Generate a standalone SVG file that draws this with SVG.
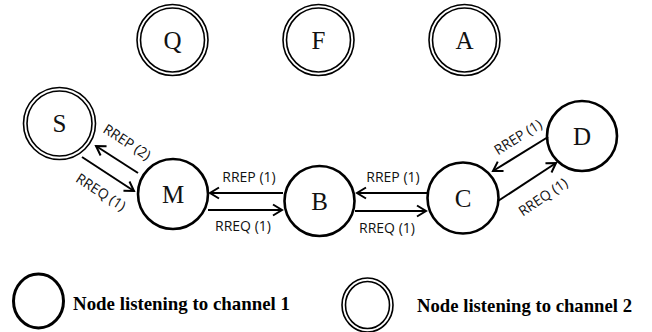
<svg xmlns="http://www.w3.org/2000/svg" width="652" height="332" viewBox="0 0 652 332">
  <defs>
    <marker id="head" viewBox="-11 -7 13 14" refX="0" refY="0" markerWidth="13" markerHeight="14" markerUnits="userSpaceOnUse" orient="auto">
      <path d="M-9,-5.5 L0,0 L-9,5.5" fill="none" stroke="#000" stroke-width="2"/>
    </marker>
  </defs>

  <rect width="652" height="332" fill="#fff"/>

  <!-- channel 2 nodes: double ring -->
  <g fill="#fff" stroke="#000" stroke-width="1.6">
    <g id="node-Q">
      <circle cx="172.5" cy="40" r="35.5"/>
      <circle cx="172.5" cy="40" r="32"/>
      <text x="172.5" y="49" font-family="Liberation Serif" font-size="25" text-anchor="middle" fill="#111" stroke="none">Q</text>
    </g>
    <g id="node-F">
      <circle cx="318.5" cy="40" r="35.5"/>
      <circle cx="318.5" cy="40" r="32"/>
      <text x="318.5" y="49" font-family="Liberation Serif" font-size="25" text-anchor="middle" fill="#111" stroke="none">F</text>
    </g>
    <g id="node-A">
      <circle cx="464.5" cy="40" r="35.5"/>
      <circle cx="464.5" cy="40" r="32"/>
      <text x="464.5" y="49" font-family="Liberation Serif" font-size="25" text-anchor="middle" fill="#111" stroke="none">A</text>
    </g>
    <g id="node-S">
      <circle cx="59.5" cy="123.5" r="36"/>
      <circle cx="59.5" cy="123.5" r="32.5"/>
      <text x="59.5" y="132" font-family="Liberation Serif" font-size="25" text-anchor="middle" fill="#111" stroke="none">S</text>
    </g>
  </g>

  <!-- channel 1 nodes: single heavy ring -->
  <g fill="#fff" stroke="#000" stroke-width="2.6">
    <g id="node-M">
      <circle cx="173" cy="194" r="35"/>
      <text x="173" y="203" font-family="Liberation Serif" font-size="25" text-anchor="middle" fill="#111" stroke="none">M</text>
    </g>
    <g id="node-B">
      <circle cx="319.5" cy="201" r="35"/>
      <text x="319.5" y="210" font-family="Liberation Serif" font-size="25" text-anchor="middle" fill="#111" stroke="none">B</text>
    </g>
    <g id="node-C">
      <circle cx="463" cy="198" r="35.5"/>
      <text x="463" y="207" font-family="Liberation Serif" font-size="25" text-anchor="middle" fill="#111" stroke="none">C</text>
    </g>
    <g id="node-D">
      <circle cx="582" cy="136" r="35"/>
      <text x="582" y="145" font-family="Liberation Serif" font-size="25" text-anchor="middle" fill="#111" stroke="none">D</text>
    </g>
  </g>

  <!-- route request / reply messages -->
  <g id="connectors">
    <g stroke="#000" stroke-width="2" fill="none" marker-end="url(#head)">
      <line x1="138" y1="173" x2="96" y2="146"/>
      <line x1="82" y1="157" x2="134" y2="191"/>
      <line x1="283" y1="193" x2="210" y2="193"/>
      <line x1="208" y1="210" x2="282" y2="210"/>
      <line x1="427" y1="193" x2="357" y2="193"/>
      <line x1="355" y1="211" x2="426" y2="211"/>
      <line x1="548" y1="137" x2="493" y2="171"/>
      <line x1="498" y1="201" x2="556" y2="163"/>
    </g>
    <text transform="translate(127,142) rotate(33)" y="5" font-family="Open Sans" font-size="14" text-anchor="middle" fill="#111">RREP (2)</text>
    <text transform="translate(101,192) rotate(33)" y="5" font-family="Open Sans" font-size="14" text-anchor="middle" fill="#111">RREQ (1)</text>
    <text x="249" y="182" font-family="Open Sans" font-size="14" text-anchor="middle" fill="#111">RREP (1)</text>
    <text x="243" y="231" font-family="Open Sans" font-size="14" text-anchor="middle" fill="#111">RREQ (1)</text>
    <text x="393" y="182" font-family="Open Sans" font-size="14" text-anchor="middle" fill="#111">RREP (1)</text>
    <text x="387" y="233" font-family="Open Sans" font-size="14" text-anchor="middle" fill="#111">RREQ (1)</text>
    <text transform="translate(518,137) rotate(-32)" y="5" font-family="Open Sans" font-size="14" text-anchor="middle" fill="#111">RREP (1)</text>
    <text transform="translate(543,197) rotate(-34)" y="5" font-family="Open Sans" font-size="14" text-anchor="middle" fill="#111">RREQ (1)</text>
  </g>

  <!-- legend -->
  <g id="legend-channel-1">
    <ellipse cx="38.5" cy="301" rx="25" ry="27" fill="none" stroke="#000" stroke-width="3"/>
    <text x="73" y="310" font-family="Liberation Serif" font-size="19" font-weight="bold" fill="#000" textLength="217" lengthAdjust="spacingAndGlyphs">Node listening to channel 1</text>
  </g>
  <g id="legend-channel-2">
    <ellipse cx="367.5" cy="305" rx="25.5" ry="27" fill="none" stroke="#000" stroke-width="1.6"/>
    <ellipse cx="367.5" cy="305" rx="22" ry="23.5" fill="none" stroke="#000" stroke-width="1.6"/>
    <text x="417" y="312" font-family="Liberation Serif" font-size="19" font-weight="bold" fill="#000" textLength="215" lengthAdjust="spacingAndGlyphs">Node listening to channel 2</text>
  </g>
</svg>
